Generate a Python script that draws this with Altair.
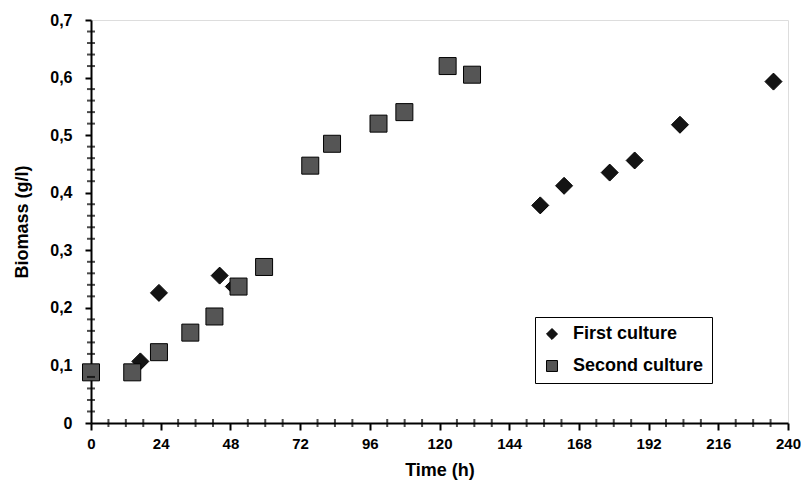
import altair as alt
import pandas as pd

# First culture (diamonds)
first_t = [17, 23.4, 44.3, 49.2, 154.7, 162.9, 178.6, 187.2, 202.8, 235]
first_v = [0.107, 0.226, 0.256, 0.237, 0.378, 0.412, 0.435, 0.456, 0.518, 0.593]

# Second culture (squares)
second_t = [0, 14.2, 23.4, 34.2, 42.5, 50.8, 59.6, 75.5, 83, 99, 107.9, 122.8, 131.2]
second_v = [0.088, 0.088, 0.123, 0.157, 0.185, 0.237, 0.271, 0.447, 0.485, 0.52, 0.54, 0.62, 0.605]

series_names = ["First culture", "Second culture"]

x_major = [0, 24, 48, 72, 96, 120, 144, 168, 192, 216, 240]
x_minor = [6, 12, 18, 30, 36, 42, 54, 60, 66, 78, 84, 90, 102, 108, 114, 126, 132, 138,
           150, 156, 162, 174, 180, 186, 198, 204, 210, 222, 228, 234]
y_major = [0, 0.1, 0.2, 0.3, 0.4, 0.5, 0.6, 0.7]
y_minor = [0.02, 0.04, 0.06, 0.08, 0.12, 0.14, 0.16, 0.18, 0.22, 0.24, 0.26, 0.28,
           0.32, 0.34, 0.36, 0.38, 0.42, 0.44, 0.46, 0.48, 0.52, 0.54, 0.56, 0.58,
           0.62, 0.64, 0.66, 0.68]

W, H = 697, 403

rows = []
for t, v in zip(first_t, first_v):
    rows.append({"Time": t, "Biomass": v, "Series": series_names[0]})
for t, v in zip(second_t, second_v):
    rows.append({"Time": t, "Biomass": v, "Series": series_names[1]})
df = pd.DataFrame(rows)
df["order"] = range(len(df))

FONT = "Liberation Sans"

x_scale = alt.Scale(domain=[0, 240], nice=False, zero=False)
y_scale = alt.Scale(domain=[0, 0.7], nice=False)

x_axis = alt.Axis(
    values=x_major,
    title="Time  (h)",
    labelExpr="datum.value",
    labelOverlap=False,
    labelFlush=False,
    grid=False,
    domainColor="#000000",
    domainWidth=2,
    ticks=True,
    tickColor="#000000",
    tickWidth=2,
    tickSize=7,
    labelPadding=6,
    labelFont=FONT,
    labelFontSize=15,
    labelFontWeight="bold",
    labelColor="black",
    titleFont=FONT,
    titleFontSize=18,
    titleFontWeight="bold",
    titleColor="black",
    titlePadding=10,
)

y_axis = alt.Axis(
    values=y_major,
    title="Biomass (g/l)",
    labelExpr="datum.value == 0 ? '0' : replace(format(datum.value, '.1f'), '.', ',')",
    labelOverlap=False,
    labelFlush=False,
    grid=False,
    domainColor="#000000",
    domainWidth=2,
    ticks=True,
    tickColor="#000000",
    tickWidth=2,
    tickSize=6,
    labelPadding=13,
    labelFont=FONT,
    labelFontSize=16,
    labelFontWeight="bold",
    labelColor="black",
    titleFont=FONT,
    titleFontSize=18,
    titleFontWeight="bold",
    titleColor="black",
    titlePadding=18,
)

legend_cfg = dict(
    title=None,
    orient="none",
    legendX=444,
    legendY=297,
    strokeColor="black",
    fillColor="white",
    padding=8,
    rowPadding=14,
    symbolSize=120,
    symbolStrokeColor="black",
    symbolStrokeWidth=1,
    labelFont=FONT,
    labelFontSize=18,
    labelFontWeight="bold",
    labelColor="black",
    labelOffset=12,
)

points = (
    alt.Chart(df)
    .mark_point(filled=True, size=289, stroke="black", strokeWidth=1, opacity=1)
    .encode(
        x=alt.X("Time:Q", scale=x_scale, axis=x_axis),
        y=alt.Y("Biomass:Q", scale=y_scale, axis=y_axis),
        shape=alt.Shape(
            "Series:N",
            scale=alt.Scale(domain=series_names, range=["diamond", "square"]),
            legend=alt.Legend(**legend_cfg),
        ),
        color=alt.Color(
            "Series:N",
            scale=alt.Scale(domain=series_names, range=["#141414", "#555555"]),
            legend=alt.Legend(**legend_cfg),
        ),
        order=alt.Order("order:Q"),
    )
)

minor_x = (
    alt.Chart(pd.DataFrame({"Time": x_minor}))
    .mark_tick(color="#000000", thickness=2, size=8, orient="vertical")
    .encode(x=alt.X("Time:Q", scale=x_scale, axis=x_axis), y=alt.value(H))
)

minor_y = (
    alt.Chart(pd.DataFrame({"Biomass": y_minor}))
    .mark_tick(color="#000000", thickness=2, size=8, orient="horizontal")
    .encode(y=alt.Y("Biomass:Q", scale=y_scale, axis=y_axis), x=alt.value(0))
)

chart = (
    alt.layer(points, minor_x, minor_y)
    .properties(
        width=W,
        height=H,
        autosize=alt.AutoSizeParams(type="none"),
        padding={"left": 83, "top": 12, "right": 13, "bottom": 66},
    )
    .configure_view(stroke="black", strokeWidth=1.5)
    .configure(background="white")
)

chart.save("out.html", embed_options={"renderer": "svg", "actions": False})
